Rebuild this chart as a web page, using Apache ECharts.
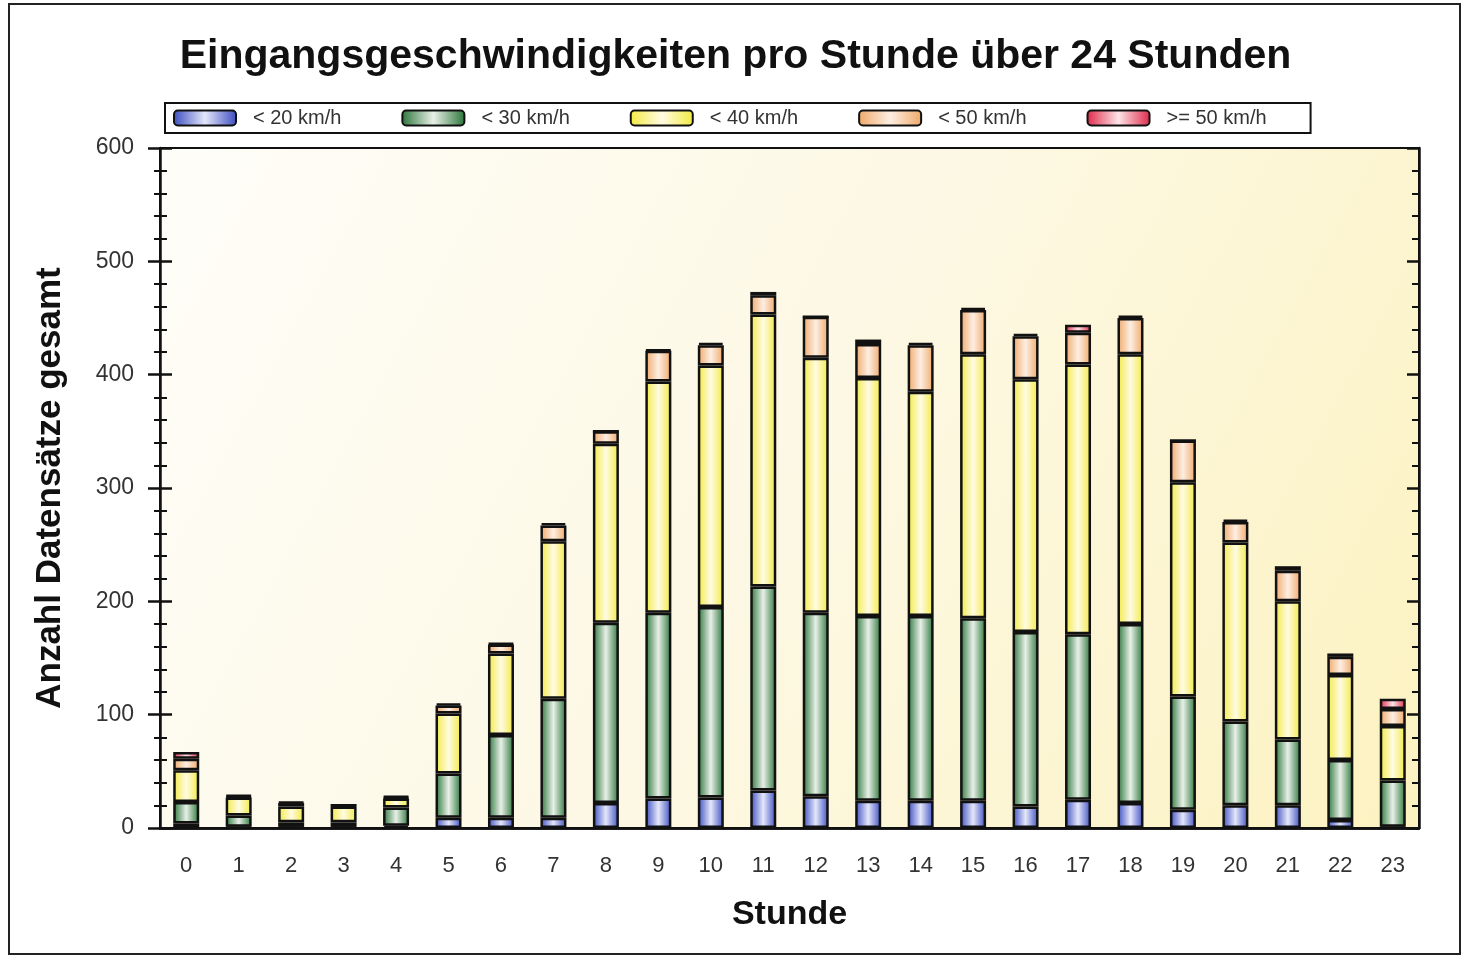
<!DOCTYPE html>
<html>
<head>
<meta charset="utf-8">
<title>Eingangsgeschwindigkeiten</title>
<script src="https://cdn.jsdelivr.net/npm/echarts@6/dist/echarts.min.js"></script>
<style>
  html, body { margin: 0; padding: 0; background: #fff; }
  #chart { width: 1471px; height: 956px; }
</style>
</head>
<body>
<div id="chart"></div>
<script>
// Stunden 0..23
var hours = ['0','1','2','3','4','5','6','7','8','9','10','11','12','13','14','15','16','17','18','19','20','21','22','23'];
var speedClasses = ['< 20 km/h', '< 30 km/h', '< 40 km/h', '< 50 km/h', '>= 50 km/h'];

// Anzahl pro Geschwindigkeitsklasse (gestapelt)
var below20 = [4, 1, 1, 1, 2, 9, 9, 9, 22, 26, 27, 33, 28, 24, 24, 24, 19, 25, 22, 16, 20, 20, 7, 1];
var below30 = [19, 10, 4, 4, 16, 39, 73, 105, 159, 164, 168, 180, 162, 163, 163, 161, 154, 146, 158, 100, 74, 58, 53, 41];
var below40 = [28, 16, 14, 14, 8, 53, 72, 139, 158, 204, 213, 240, 225, 210, 198, 233, 223, 238, 238, 189, 158, 122, 75, 48];
var below50 = [10, 1, 3, 1, 1, 7, 8, 14, 11, 27, 18, 17, 36, 30, 41, 39, 38, 28, 32, 37, 18, 27, 16, 15];
var over50  = [6, 1, 1, 0, 1, 2, 1, 2, 0, 1, 2, 3, 0, 4, 2, 2, 2, 7, 2, 0, 2, 4, 3, 9];

var yTicks = [0, 100, 200, 300, 400, 500, 600];

// Zylinder-Look: dunkle Raender, heller Kern
function cyl(edge, mid) {
  return new echarts.graphic.LinearGradient(0, 0, 1, 0, [
    { offset: 0, color: edge },
    { offset: 0.5, color: mid },
    { offset: 1, color: edge }
  ]);
}
var fills = [
  cyl('#3a4cc0', '#e4e7fa'),
  cyl('#2a7438', '#e8f0e8'),
  cyl('#f2ea40', '#fffbe2'),
  cyl('#efa868', '#fdeee2'),
  cyl('#de2848', '#fde4e8')
];
var seriesValues = [below20, below30, below40, below50, over50];

var series = [];
for (var i = 0; i < speedClasses.length; i++) {
  series.push({
    name: speedClasses[i],
    type: 'bar',
    stack: 'total',
    barWidth: 26,
    itemStyle: { color: fills[i], borderColor: '#111', borderWidth: 2.5 },
    emphasis: { disabled: true },
    data: seriesValues[i]
  });
}

var axisFont = { fontFamily: 'Liberation Sans', fontSize: 22, color: '#333' };
var yMin = yTicks[0], yMax = yTicks[yTicks.length - 1];

var myChart = echarts.init(document.getElementById('chart'));
var option = {
  animation: false,
  backgroundColor: '#fff',
  title: {
    text: 'Eingangsgeschwindigkeiten pro Stunde über 24 Stunden',
    left: 'center',
    top: 31,
    textStyle: { fontFamily: 'Liberation Sans', fontWeight: 'bold', fontSize: 41, color: '#111' }
  },
  legend: {
    data: speedClasses,
    left: 165,
    top: 103,
    itemWidth: 62,
    itemHeight: 15,
    itemGap: 60,
    padding: [5, 44, 5, 8],
    borderColor: '#111',
    borderWidth: 2,
    backgroundColor: '#fff',
    textStyle: { fontFamily: 'Liberation Sans', fontSize: 20, color: '#333', padding: [0, 0, 0, 12] }
  },
  grid: {
    left: 160,
    right: 52,
    top: 148,
    bottom: 128,
    show: true,
    borderColor: '#111',
    borderWidth: 2,
    backgroundColor: new echarts.graphic.LinearGradient(0, 0, 1, 1, [
      { offset: 0, color: '#fefdf8' },
      { offset: 0.5, color: '#fdf8e4' },
      { offset: 1, color: '#fcf2c0' }
    ])
  },
  xAxis: [
    {
      type: 'category',
      data: hours,
      name: 'Stunde',
      nameLocation: 'middle',
      nameGap: 70,
      nameTextStyle: { fontFamily: 'Liberation Sans', fontWeight: 'bold', fontSize: 34, color: '#111' },
      axisLine: { lineStyle: { color: '#111', width: 2.5 } },
      axisTick: { alignWithLabel: true, length: 14, lineStyle: { color: '#111', width: 2.5 } },
      axisLabel: Object.assign({ margin: 27 }, axisFont)
    },
    {
      type: 'category',
      data: hours,
      position: 'bottom',
      axisLine: { show: false },
      axisTick: { alignWithLabel: true, inside: true, length: 13, lineStyle: { color: '#111', width: 2.5 } },
      axisLabel: { show: false }
    },
    {
      type: 'category',
      data: hours,
      position: 'top',
      axisLine: { lineStyle: { color: '#111', width: 2.5 } },
      axisTick: { alignWithLabel: true, inside: true, length: 12, lineStyle: { color: '#111', width: 2.5 } },
      axisLabel: { show: false }
    }
  ],
  yAxis: [
    {
      type: 'value',
      min: yMin,
      max: yMax,
      interval: 100,
      name: 'Anzahl Datensätze gesamt',
      nameLocation: 'middle',
      nameGap: 92,
      nameTextStyle: { fontFamily: 'Liberation Sans', fontWeight: 'bold', fontSize: 35, color: '#111' },
      axisLine: { show: true, lineStyle: { color: '#111', width: 2.5 } },
      axisTick: { show: true, length: 12, lineStyle: { color: '#111', width: 2.5 } },
      minorTick: { show: true, splitNumber: 5, length: 6, lineStyle: { color: '#111', width: 2 } },
      splitLine: { show: false },
      axisLabel: Object.assign({ margin: 26 }, axisFont, { fontSize: 23 })
    },
    {
      type: 'value',
      min: yMin,
      max: yMax,
      interval: 100,
      position: 'left',
      axisLine: { show: false },
      axisTick: { show: true, inside: true, length: 12, lineStyle: { color: '#111', width: 2.5 } },
      minorTick: { show: true, splitNumber: 5, length: 7, lineStyle: { color: '#111', width: 2 } },
      splitLine: { show: false },
      axisLabel: { show: false }
    },
    {
      type: 'value',
      min: yMin,
      max: yMax,
      interval: 100,
      position: 'right',
      axisLine: { show: true, lineStyle: { color: '#111', width: 2.5 } },
      axisTick: { show: true, inside: true, length: 12, lineStyle: { color: '#111', width: 2.5 } },
      minorTick: { show: true, splitNumber: 5, length: 7, lineStyle: { color: '#111', width: 2 } },
      splitLine: { show: false },
      axisLabel: { show: false }
    }
  ],
  graphic: [
    {
      type: 'rect',
      shape: { x: 9, y: 4, width: 1451, height: 950 },
      style: { fill: 'none', stroke: '#222', lineWidth: 2 },
      silent: true
    }
  ],
  series: series
};
option && myChart.setOption(option);
</script>
</body>
</html>
